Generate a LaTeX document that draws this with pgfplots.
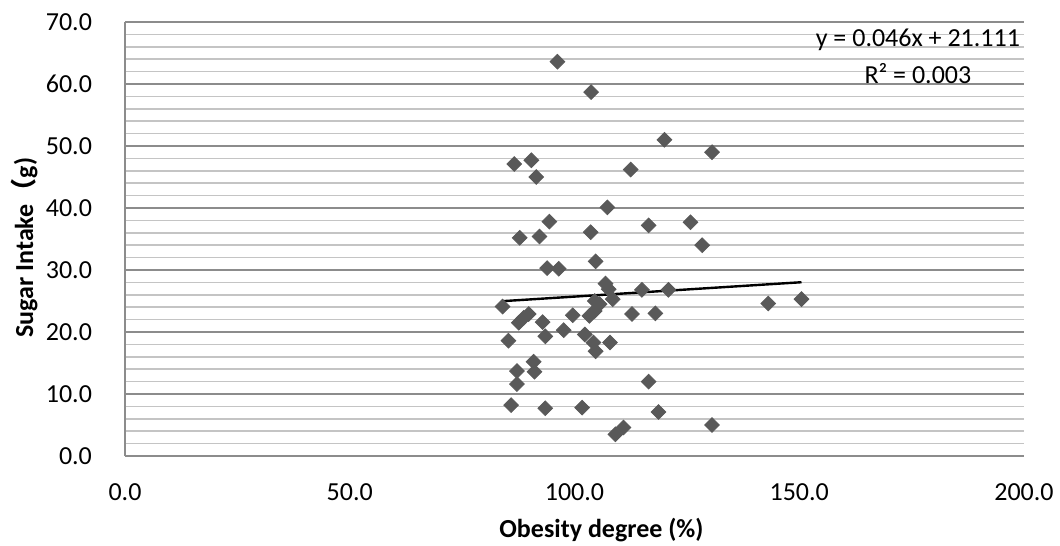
\documentclass[border=0pt]{standalone}
\usepackage{fontspec}
\setmainfont{Carlito}
\newfontfamily\cjk{Noto Sans CJK SC}
\usepackage{pgfplots}
\pgfplotsset{compat=1.18}
\definecolor{pt}{HTML}{595959}
\definecolor{majorg}{HTML}{8C8C8C}
\definecolor{minorg}{HTML}{C4C4C4}

\pgfplotstableread{
x y
96.2 63.6
103.7 58.7
120.0 51.0
130.6 49.0
90.4 47.7
86.6 47.1
91.5 45.0
112.5 46.2
107.3 40.1
94.4 37.8
125.8 37.7
116.5 37.2
103.6 36.1
87.8 35.2
92.2 35.4
128.4 34.0
104.7 31.4
93.9 30.3
96.5 30.2
106.9 27.8
107.6 26.9
108.5 25.3
115.0 26.8
120.9 26.8
84.0 24.1
104.5 25.0
105.6 24.5
104.5 23.4
103.3 22.6
89.8 22.9
88.7 22.3
87.6 21.5
92.9 21.6
99.6 22.7
112.8 22.9
118.0 23.0
97.6 20.3
85.3 18.6
93.5 19.3
102.3 19.6
104.2 18.3
107.9 18.3
104.7 16.9
90.9 15.2
87.2 13.7
91.1 13.6
87.2 11.6
116.5 12.0
85.9 8.2
93.5 7.7
101.7 7.8
118.7 7.1
130.6 5.0
110.9 4.6
109.1 3.5
143.1 24.6
150.5 25.3
}\pts

\begin{document}
\begin{tikzpicture}
\begin{axis}[
    name=ax,
    scale only axis,
    width=449.5pt, height=217pt,
    xmin=0, xmax=200, ymin=0, ymax=70,
    xtick={0,50,...,200},
    ytick={0,10,...,70},
    minor y tick num=4,
    ymajorgrids, yminorgrids,
    major grid style={draw=majorg, line width=0.8pt},
    minor grid style={draw=minorg, line width=0.8pt},
    axis x line*=bottom,
    axis y line*=left,
    axis line style={draw=majorg, line width=0.8pt, -},
    major tick length=0pt, minor tick length=0pt,
    tick label style={font=\fontsize{13}{15}\selectfont,
        /pgf/number format/fixed, /pgf/number format/fixed zerofill,
        /pgf/number format/precision=1, /pgf/number format/assume math mode=true},
    xticklabel shift=10.5pt,
    yticklabel shift=13pt,
    xlabel={\textbf{Obesity degree (\%)}},
    ylabel={\textbf{Sugar Intake{\cjk\bfseries （}g)}},
    every axis x label/.style={at={(axis description cs:0.53,-0.1705)}, anchor=center,
        font=\fontsize{13}{15}\selectfont},
    every axis y label/.style={at={(axis description cs:-0.1123,0.48)}, anchor=center, rotate=90,
        font=\fontsize{13}{15}\selectfont},
    clip=false,
]
\addplot[only marks, mark=square*, mark size=2.6pt, mark options={rotate=45, fill=pt, draw=pt}] table[x=x, y=y] {\pts};
\addplot[black, line width=1.2pt, no marks] coordinates {(83.9,24.97) (150.5,28.03)};
\node[align=center, font=\fontsize{13}{18.5}\selectfont, anchor=center] at (rel axis cs:0.882,0.92) {y = 0.046x + 21.111\\R² = 0.003};
\end{axis}
\pgfresetboundingbox
\path[use as bounding box] ([xshift=-62.5pt,yshift=-45pt]ax.south west) rectangle ([xshift=18pt,yshift=11pt]ax.north east);
\end{tikzpicture}
\end{document}
